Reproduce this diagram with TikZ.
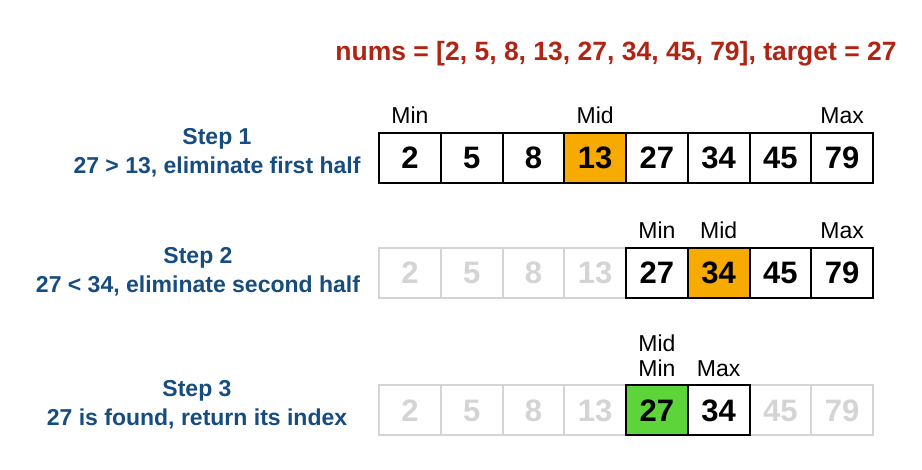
\documentclass[tikz,border=0pt]{standalone}
\usepackage{fontspec}
\setmainfont{Liberation Sans}
\usetikzlibrary{positioning}
\definecolor{titlered}{RGB}{176,36,20}
\definecolor{stepblue}{RGB}{22,76,128}
\definecolor{midorange}{RGB}{247,170,0}
\definecolor{foundgreen}{RGB}{92,212,58}
\definecolor{offgray}{RGB}{212,212,212}

\begin{document}
\begin{tikzpicture}[x=1pt,y=-1pt,
  cell/.style={draw=black, line width=2pt, fill=white, minimum width=61.75pt,
    minimum height=50pt, inner sep=0pt, font=\fontsize{31}{31}\selectfont\bfseries},
  midcell/.style={cell, fill=midorange},
  foundcell/.style={cell, fill=foundgreen},
  offcell/.style={cell, draw=offgray, text=offgray},
  tag/.style={font=\fontsize{23}{23}\selectfont, inner sep=4pt},
  steptext/.style={align=center, text=stepblue, font=\fontsize{23}{29}\selectfont\bfseries}]
  \useasboundingbox (0,0) rectangle (922,470);

  \node[text=titlered, font=\fontsize{26.5}{26.5}\selectfont\bfseries] (title) at (616,54)
    {nums = [2, 5, 8, 13, 27, 34, 45, 79], target = 27};

  % step 1
  \foreach \i/\v/\s in {1/2/cell,2/5/cell,3/8/cell,4/13/midcell,5/27/cell,6/34/cell,7/45/cell,8/79/cell}
    \node[\s] (a\i) at (348.125+61.75*\i,158) {\v};
  \node[tag, above=4pt of a1] (amin) {Min};
  \node[tag, above=4pt of a4] (amid) {Mid};
  \node[tag, above=4pt of a8] (amax) {Max};
  \node[steptext] (step1) at (217,153) {Step 1\\27 > 13, eliminate first half};

  % step 2
  \foreach \i/\v/\s in {1/2/offcell,2/5/offcell,3/8/offcell,4/13/offcell,5/27/cell,6/34/midcell,7/45/cell,8/79/cell}
    \node[\s] (b\i) at (348.125+61.75*\i,273) {\v};
  \node[tag, above=4pt of b5] (bmin) {Min};
  \node[tag, above=4pt of b6] (bmid) {Mid};
  \node[tag, above=4pt of b8] (bmax) {Max};
  \node[steptext] (step2) at (198,272) {Step 2\\27 < 34, eliminate second half};

  % step 3
  \foreach \i/\v/\s in {1/2/offcell,2/5/offcell,3/8/offcell,4/13/offcell,7/45/offcell,8/79/offcell,5/27/foundcell,6/34/cell}
    \node[\s] (c\i) at (348.125+61.75*\i,410.5) {\v};
  \node[tag, above=4pt of c5] (cmin) {Min};
  \node[tag, above=0pt of cmin] (cmid) {Mid};
  \node[tag, above=4pt of c6] (cmax) {Max};
  \node[steptext] (step3) at (197,405) {Step 3\\27 is found, return its index};
\end{tikzpicture}
\end{document}
